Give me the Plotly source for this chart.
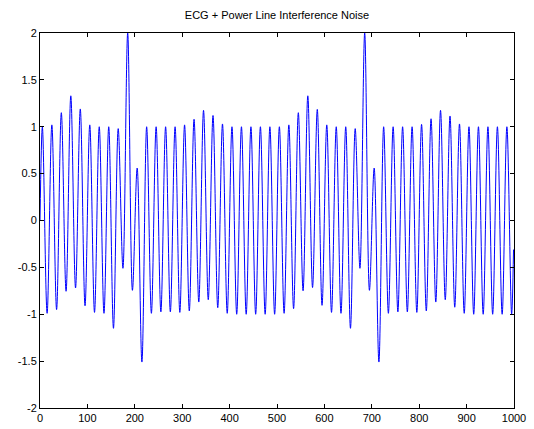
import plotly.graph_objects as go

# Sample index of each extreme (peak / trough) of the noisy ECG, plus start and end samples
sample_idx = [0, 5, 15, 25, 35, 45, 55, 65, 75, 85, 95,
              105, 115, 125, 135, 145, 155, 165, 175, 185, 195,
              205, 215, 225, 235, 245, 255, 265, 275, 285, 295,
              305, 315, 325, 335, 345, 355, 365, 375, 385, 395,
              405, 415, 425, 435, 445, 455, 465, 475, 485, 495,
              505, 515, 525, 535, 545, 555, 565, 575, 585, 595,
              605, 615, 625, 635, 645, 655, 665, 675, 685, 695,
              705, 715, 725, 735, 745, 755, 765, 775, 785, 795,
              805, 815, 825, 835, 845, 855, 865, 875, 885, 895,
              905, 915, 925, 935, 945, 955, 965, 975, 985, 995, 999]

# Signal amplitude at those samples
signal = [0.0, 1.0, -0.99, 1.02, -0.95, 1.15, -0.755, 1.33, -0.72, 1.19, -0.91,
          1.02, -0.98, 1.0, -0.99, 1.0, -1.15, 0.98, -0.51, 2.0, -0.745,
          0.56, -1.51, 1.0, -0.99, 1.0, -0.975, 1.0, -0.975, 1.0, -0.98,
          1.02, -0.965, 1.08, -0.87, 1.175, -0.845, 1.12, -0.93, 1.03, -0.99,
          1.0, -1.0, 1.0, -1.0, 1.0, -1.0, 1.0, -1.0, 1.0, -1.0,
          1.0, -0.99, 1.02, -0.94, 1.15, -0.75, 1.33, -0.715, 1.185, -0.905,
          1.02, -0.98, 1.0, -0.99, 1.0, -1.15, 0.98, -0.51, 2.0, -0.745,
          0.56, -1.51, 1.0, -0.99, 1.0, -0.975, 1.0, -0.975, 1.0, -0.98,
          1.025, -0.965, 1.085, -0.87, 1.175, -0.845, 1.115, -0.925, 1.03, -0.99,
          1.0, -1.0, 1.0, -1.0, 1.0, -1.0, 1.0, -1.0, 1.0, -1.0, -0.31]

x_ticks = [0, 100, 200, 300, 400, 500, 600, 700, 800, 900, 1000]
x_labels = ["0", "100", "200", "300", "400", "500", "600", "700", "800", "900", "1000"]
y_ticks = [-2, -1.5, -1, -0.5, 0, 0.5, 1, 1.5, 2]
y_labels = ["-2", "-1.5", "-1", "-0.5", "0", "0.5", "1", "1.5", "2"]

title_text = "ECG + Power Line Interference Noise"

fig = go.Figure()
fig.add_trace(go.Scatter(
    x=sample_idx, y=signal, mode="lines",
    line=dict(color="#0000ff", width=1, shape="spline", smoothing=1),
    hoverinfo="skip", showlegend=False,
))

axis_common = dict(
    showgrid=False, zeroline=False, showline=True, mirror="ticks",
    linecolor="black", linewidth=1, ticks="inside", ticklen=4,
    tickcolor="black", tickwidth=1, automargin=False,
    tickfont=dict(family="Liberation Sans, Arial, sans-serif", size=11, color="black"),
)

fig.update_layout(
    width=534, height=429,
    margin=dict(l=40, r=20, t=33, b=21, pad=0, autoexpand=False),
    paper_bgcolor="white", plot_bgcolor="white",
    title=dict(text=title_text, x=0.5, xref="paper", y=1 - 15 / 429, yref="container",
               xanchor="center", yanchor="middle", automargin=False,
               font=dict(family="Liberation Sans, Arial, sans-serif", size=11, color="black")),
    xaxis=dict(range=[0, 1000], tickvals=x_ticks, ticktext=x_labels, **axis_common),
    yaxis=dict(range=[-2, 2], tickvals=y_ticks, ticktext=y_labels, **axis_common),
)

fig.write_html("out.html")
